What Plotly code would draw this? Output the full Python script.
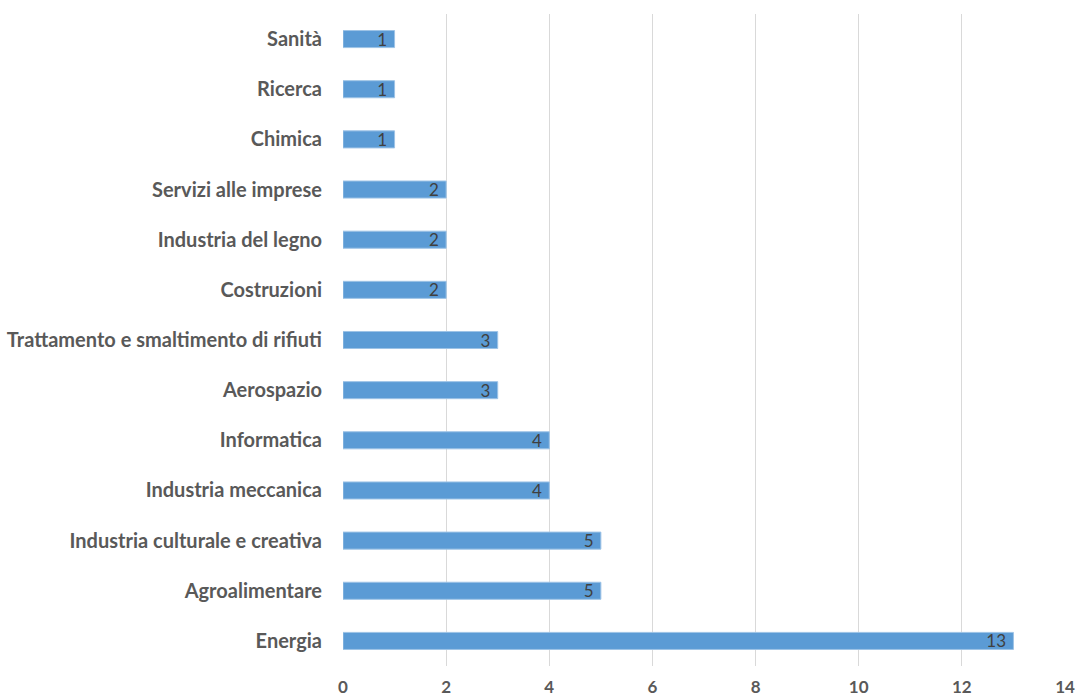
import plotly.graph_objects as go

categories = ["Sanità", "Ricerca", "Chimica", "Servizi alle imprese", "Industria del legno",
              "Costruzioni", "Trattamento e smaltimento di rifiuti", "Aerospazio", "Informatica",
              "Industria meccanica", "Industria culturale e creativa", "Agroalimentare", "Energia"]
values = [1, 1, 1, 2, 2, 2, 3, 3, 4, 4, 5, 5, 13]
x_ticks = [0, 2, 4, 6, 8, 10, 12, 14]

fig = go.Figure(go.Bar(
    y=categories, x=values, orientation="h",
    marker=dict(color="#5B9BD5", line=dict(color="#9DC3E6", width=1)),
    width=0.34,
    text=[f"{v}\u00a0" for v in values], textposition="inside", insidetextanchor="end",
    textangle=0,
    textfont=dict(family="Lato", size=17, color="#404040"),
    constraintext="none",
))

fig.update_layout(
    width=1077, height=697,
    margin=dict(l=343, r=12, t=14, b=31, autoexpand=False),
    paper_bgcolor="white", plot_bgcolor="white",
    showlegend=False,
    xaxis=dict(range=[0, 14], tickvals=x_ticks, showgrid=True, gridcolor="#D9D9D9", gridwidth=1,
               zeroline=False, showline=False, ticks="outside", ticklen=6, tickcolor="rgba(0,0,0,0)",
               automargin=False, ticklabeloverflow="allow",
               tickfont=dict(family="Lato", size=17, color="#595959", weight="bold")),
    yaxis=dict(autorange="reversed", showgrid=False, zeroline=False, showline=False,
               ticks="outside", ticklen=16, tickcolor="rgba(0,0,0,0)", automargin=False,
               tickfont=dict(family="Lato", size=20, color="#595959", weight="bold")),
)
fig.write_html(
    "out.html",
    config={"displayModeBar": False},
    post_script="document.body.style.margin='0';document.body.style.overflow='hidden';",
)
